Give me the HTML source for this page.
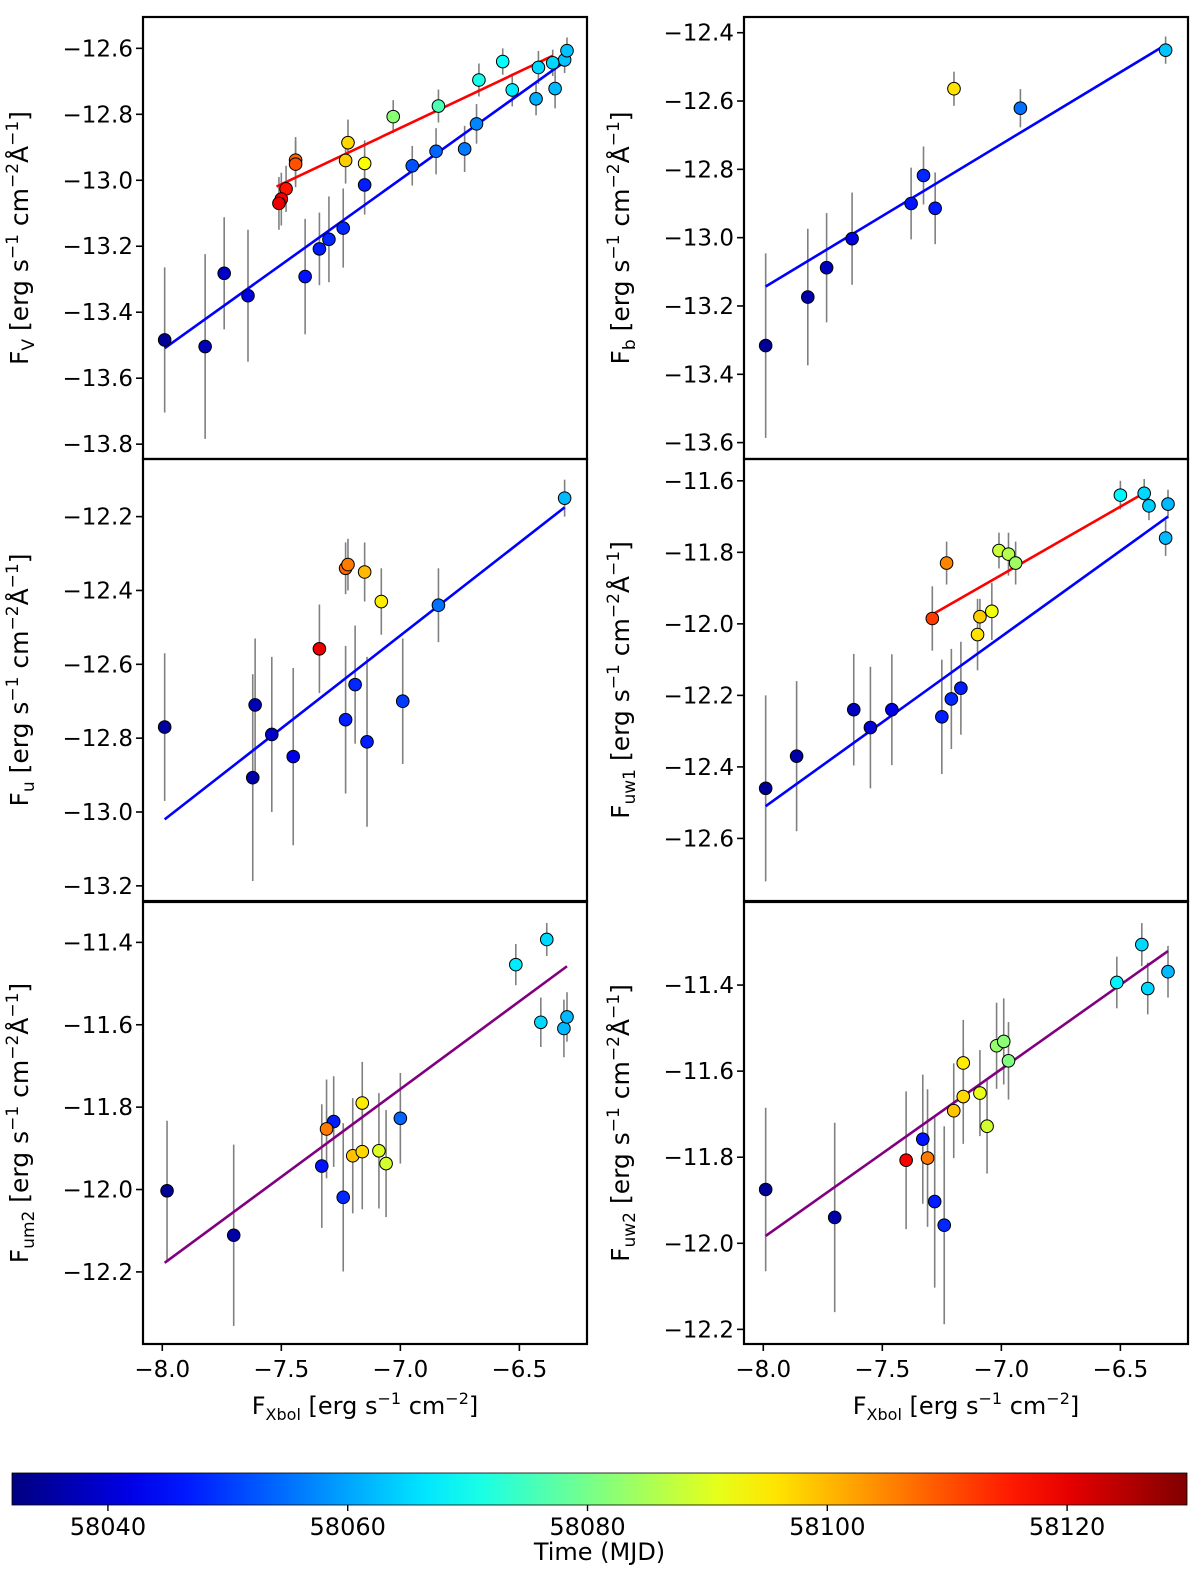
<!DOCTYPE html>
<html><head><meta charset="utf-8">
<style>
html,body{margin:0;padding:0;background:#fff;}
svg{display:block;font-family:"DejaVu Sans","Liberation Sans",sans-serif;}
</style></head>
<body>
<svg id="fig" width="1200" height="1585" viewBox="0 0 1200 1585" xmlns="http://www.w3.org/2000/svg"></svg>
<script>
// ---- data: panel V ----
const vX=[-7.99,-7.82,-7.74,-7.64,-7.40,-7.34,-7.30,-7.24,-7.15,-6.95,-6.85,-6.73,-6.68,-6.43,-6.35,-6.31,-6.30,-6.42,-6.36,-6.53,-6.57,-6.67,-6.84,-7.03,-7.22,-7.23,-7.15,-7.44,-7.44,-7.48,-7.50,-7.51];
const vY=[-13.484,-13.504,-13.282,-13.35,-13.292,-13.208,-13.179,-13.145,-13.014,-12.956,-12.912,-12.905,-12.829,-12.753,-12.722,-12.635,-12.607,-12.658,-12.644,-12.726,-12.64,-12.696,-12.775,-12.807,-12.886,-12.94,-12.949,-12.939,-12.951,-13.026,-13.057,-13.07];
const vE=[0.22,0.28,0.17,0.2,0.175,0.11,0.13,0.12,0.09,0.06,0.07,0.07,0.06,0.05,0.06,0.04,0.04,0.05,0.04,0.05,0.04,0.05,0.05,0.05,0.07,0.07,0.07,0.07,0.07,0.07,0.08,0.08];
const vT=[58034,58037,58039,58041,58046,58047,58048,58048,58047,58052,58054,58056,58057,58061,58062,58063,58063,58065,58065,58067,58069,58071,58076,58082,58097,58098,58093,58108,58110,58116,58119,58120];
const vFitBlue=[[-7.99,-13.509],[-6.318,-12.645]];
const vFitRed=[[-7.52,-13.019],[-6.358,-12.622]];
// ---- data: panel b ----
const bX=[-7.99,-7.813,-7.734,-7.627,-7.379,-7.327,-7.278,-7.199,-6.92,-6.31];
const bY=[-13.316,-13.174,-13.088,-13.003,-12.9,-12.818,-12.914,-12.564,-12.621,-12.451];
const bE=[0.27,0.2,0.16,0.135,0.105,0.085,0.105,0.05,0.056,0.04];
const bT=[58034,58036,58038,58041,58046,58048,58047,58096,58055,58063];
const bFitBlue=[[-7.99,-13.143],[-6.318,-12.439]];
// ---- data: panel u ----
const uX=[-7.99,-7.61,-7.62,-7.54,-7.45,-7.34,-7.23,-7.19,-7.14,-7.23,-7.22,-7.15,-7.08,-6.99,-6.84,-6.31];
const uY=[-12.77,-12.71,-12.907,-12.79,-12.85,-12.558,-12.75,-12.655,-12.81,-12.34,-12.33,-12.35,-12.43,-12.70,-12.44,-12.15];
const uE=[0.2,0.18,0.28,0.21,0.24,0.12,0.2,0.16,0.23,0.07,0.07,0.08,0.09,0.17,0.1,0.05];
const uT=[58035,58037,58036,58039,58042,58120,58047,58048,58047,58108,58106,58100,58095,58050,58055,58062];
const uFitBlue=[[-7.99,-13.02],[-6.31,-12.175]];
// ---- data: panel uw1 ----
const w1X=[-7.99,-7.86,-7.62,-7.55,-7.46,-7.25,-7.21,-7.17,-7.29,-7.23,-7.09,-7.10,-7.04,-7.01,-6.97,-6.94,-6.50,-6.40,-6.38,-6.30,-6.31];
const w1Y=[-12.46,-12.37,-12.24,-12.29,-12.24,-12.26,-12.21,-12.18,-11.985,-11.83,-11.98,-12.03,-11.965,-11.795,-11.805,-11.83,-11.64,-11.635,-11.67,-11.665,-11.76];
const w1E=[0.26,0.21,0.156,0.17,0.155,0.16,0.14,0.13,0.09,0.06,0.05,0.1,0.08,0.05,0.06,0.06,0.04,0.04,0.04,0.04,0.05];
const w1T=[58034,58036,58038,58040,58042,58047,58048,58047,58112,58105,58098,58096,58092,58088,58086,58084,58068,58065,58064,58062,58062];
const w1FitBlue=[[-7.99,-12.51],[-6.30,-11.70]];
const w1FitRed=[[-7.29,-11.974],[-6.40,-11.634]];
// ---- data: panel um2 ----
const m2X=[-7.98,-7.70,-7.33,-7.28,-7.31,-7.24,-7.20,-7.16,-7.16,-7.09,-7.06,-7.00,-6.515,-6.385,-6.41,-6.313,-6.30];
const m2Y=[-12.003,-12.111,-11.943,-11.835,-11.853,-12.019,-11.918,-11.908,-11.79,-11.906,-11.937,-11.827,-11.454,-11.393,-11.594,-11.609,-11.581];
const m2E=[0.17,0.22,0.15,0.11,0.12,0.18,0.14,0.14,0.1,0.14,0.13,0.11,0.05,0.04,0.06,0.07,0.06];
const m2T=[58034,58036,58046,58047,58106,58048,58099,58097,58095,58090,58089,58054,58067,58065,58065,58062,58062];
const m2Fit=[[-7.99,-12.178],[-6.30,-11.458]];
// ---- data: panel uw2 ----
const w2X=[-7.99,-7.70,-7.40,-7.31,-7.33,-7.28,-7.24,-7.20,-7.16,-7.16,-7.09,-7.06,-7.02,-6.99,-6.97,-6.515,-6.41,-6.385,-6.30];
const w2Y=[-11.875,-11.94,-11.807,-11.802,-11.758,-11.903,-11.958,-11.692,-11.659,-11.581,-11.651,-11.728,-11.541,-11.531,-11.576,-11.394,-11.306,-11.408,-11.369];
const w2E=[0.19,0.22,0.16,0.16,0.15,0.2,0.23,0.11,0.11,0.1,0.1,0.11,0.1,0.1,0.09,0.06,0.05,0.06,0.06];
const w2T=[58034,58036,58118,58106,58046,58047,58048,58099,58097,58095,58091,58089,58083,58082,58081,58068,58065,58065,58062];
const w2Fit=[[-7.99,-11.983],[-6.30,-11.321]];
// ---- ticks ----
const xTicks=[-8.0,-7.5,-7.0,-6.5];
const xTickLabels=["−8.0","−7.5","−7.0","−6.5"];
const cbTicks=[58040,58060,58080,58100,58120];
const tMin=58032, tMax=58130;

const NS="http://www.w3.org/2000/svg";
const svg=document.getElementById('fig');
function mk(tag,attrs,parent){const e=document.createElementNS(NS,tag);for(const k in attrs)e.setAttribute(k,attrs[k]);(parent||svg).appendChild(e);return e;}
function jet(v){const c=x=>Math.round(255*Math.max(0,Math.min(1,x)));return `rgb(${c(1.5-Math.abs(4*v-3))},${c(1.5-Math.abs(4*v-2))},${c(1.5-Math.abs(4*v-1))})`;}
function tcol(t){return jet((t-tMin)/(tMax-tMin));}
const fmt=v=>(v<0?"−":"")+Math.abs(v).toFixed(1);

const panels=[
 {key:'v',sub:'V',x0:143,y0:17,ymin:-13.845,ymax:-12.505,ticks:[-12.6,-12.8,-13.0,-13.2,-13.4,-13.6,-13.8],X:vX,Y:vY,E:vE,T:vT,fits:[[vFitRed,'#ff0000'],[vFitBlue,'#0000ff']]},
 {key:'b',sub:'b',x0:744,y0:17,ymin:-13.648,ymax:-12.354,ticks:[-12.4,-12.6,-12.8,-13.0,-13.2,-13.4,-13.6],X:bX,Y:bY,E:bE,T:bT,fits:[[bFitBlue,'#0000ff']]},
 {key:'u',sub:'u',x0:143,y0:459,ymin:-13.241,ymax:-12.044,ticks:[-12.2,-12.4,-12.6,-12.8,-13.0,-13.2],X:uX,Y:uY,E:uE,T:uT,fits:[[uFitBlue,'#0000ff']]},
 {key:'uw1',sub:'uw1',x0:744,y0:459,ymin:-12.775,ymax:-11.539,ticks:[-11.6,-11.8,-12.0,-12.2,-12.4,-12.6],X:w1X,Y:w1Y,E:w1E,T:w1T,fits:[[w1FitRed,'#ff0000'],[w1FitBlue,'#0000ff']]},
 {key:'um2',sub:'um2',x0:143,y0:902,ymin:-12.375,ymax:-11.302,ticks:[-11.4,-11.6,-11.8,-12.0,-12.2],X:m2X,Y:m2Y,E:m2E,T:m2T,fits:[[m2Fit,'#800080']],xaxis:true},
 {key:'uw2',sub:'uw2',x0:744,y0:902,ymin:-12.234,ymax:-11.207,ticks:[-11.4,-11.6,-11.8,-12.0,-12.2],X:w2X,Y:w2Y,E:w2E,T:w2T,fits:[[w2Fit,'#800080']],xaxis:true}
];
const W=444,H=442,XMIN=-8.081,XMAX=-6.216;

panels.forEach(p=>{
 const g=mk('g',{});
 
 
 const sx=x=>p.x0+(x-XMIN)/(XMAX-XMIN)*W;
 const sy=y=>p.y0+(p.ymax-y)/(p.ymax-p.ymin)*H;
 p.ticks.forEach(tv=>{
  const yy=sy(tv);
  const tk=mk('line',{x1:p.x0-7,x2:p.x0,y1:yy,y2:yy,stroke:'#000','stroke-width':1.6},g);
  
  
  const lb=mk('text',{x:p.x0-10,y:yy+8,'text-anchor':'end','font-size':23},g);
  lb.textContent=fmt(tv);
  
  
 });
 const cy=p.y0+H/2, lx=p.x0-115;
 const yl=mk('text',{x:lx,y:cy,'text-anchor':'middle','font-size':25,transform:`rotate(-90 ${lx} ${cy})`},g);
 yl.innerHTML=`F<tspan font-size="17" dy="6">${p.sub}</tspan><tspan dy="-6"> [erg s</tspan><tspan font-size="17" dy="-10">−1</tspan><tspan dy="10"> cm</tspan><tspan font-size="17" dy="-10">−2</tspan><tspan dy="10">Å</tspan><tspan font-size="17" dy="-10">−1</tspan><tspan dy="10">]</tspan>`;
 
 
 if(p.xaxis){
  xTicks.forEach((xv,i)=>{
   const xx=sx(xv);
   const tk=mk('line',{x1:xx,x2:xx,y1:p.y0+H,y2:p.y0+H+7,stroke:'#000','stroke-width':1.6},g);
   
   
   const lb=mk('text',{x:xx,y:p.y0+H+33,'text-anchor':'middle','font-size':23},g);
   lb.textContent=xTickLabels[i];
   
   
  });
  const xl=mk('text',{x:p.x0+W/2,y:p.y0+H+70,'text-anchor':'middle','font-size':24},g);
  xl.innerHTML=`F<tspan font-size="16" dy="6">Xbol</tspan><tspan dy="-6">  [erg s</tspan><tspan font-size="16" dy="-10">−1</tspan><tspan dy="10"> cm</tspan><tspan font-size="16" dy="-10">−2</tspan><tspan dy="10">]</tspan>`;
  
  
 }
 p.X.forEach((xv,i)=>{
  const eb=mk('line',{x1:sx(xv),x2:sx(xv),y1:sy(p.Y[i]-p.E[i]),y2:sy(p.Y[i]+p.E[i]),stroke:'#808080','stroke-width':1.6},g);
  
  
 });
 p.fits.forEach(([pts,col])=>{
  const ln=mk('line',{x1:sx(pts[0][0]),y1:sy(pts[0][1]),x2:sx(pts[1][0]),y2:sy(pts[1][1]),stroke:col,'stroke-width':2.6},g);
  
  
 });
 p.X.forEach((xv,i)=>{
  const c=mk('circle',{cx:sx(xv),cy:sy(p.Y[i]),r:6.3,fill:tcol(p.T[i]),stroke:'#000','stroke-width':1},g);
  
  
 });
 const fr=mk('rect',{x:p.x0,y:p.y0,width:W,height:H,fill:'none',stroke:'#000','stroke-width':2.2},g);
 
 
});

const cbX0=12,cbX1=1187,cbY0=1473,cbY1=1505;
const defs=mk('defs',{});
const grad=mk('linearGradient',{id:'jetg',x1:0,x2:1,y1:0,y2:0},defs);
for(let i=0;i<=20;i++){mk('stop',{offset:(i/20),'stop-color':jet(i/20)},grad);}
const cb=mk('rect',{x:cbX0,y:cbY0,width:cbX1-cbX0,height:cbY1-cbY0,fill:'url(#jetg)',stroke:'#000','stroke-width':0.8});


const cbx=t=>cbX0+(t-tMin)/(tMax-tMin)*(cbX1-cbX0);
cbTicks.forEach(t=>{
 const tk=mk('line',{x1:cbx(t),x2:cbx(t),y1:cbY1,y2:cbY1+6,stroke:'#000','stroke-width':1.4});
 
 
 const lb=mk('text',{x:cbx(t),y:cbY1+30,'text-anchor':'middle','font-size':24});
 lb.textContent=String(t);
 
 
});
const cbl=mk('text',{x:(cbX0+cbX1)/2,y:1560,'text-anchor':'middle','font-size':24});
cbl.textContent='Time (MJD)';


</script>
</body></html>
